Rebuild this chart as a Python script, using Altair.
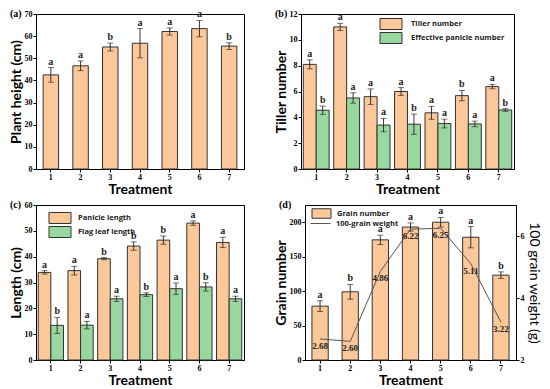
import altair as alt
import pandas as pd

treat = ["1", "2", "3", "4", "5", "6", "7"]

height = [42.5, 46.6, 55.1, 56.8, 62.1, 63.4, 55.5]
height_err = [3.3, 2.2, 1.8, 6.6, 1.6, 3.7, 1.5]
height_sig = ["a", "a", "b", "a", "a", "a", "b"]

tiller = [8.1, 11.0, 5.6, 6.0, 4.35, 5.68, 6.38]
tiller_err = [0.35, 0.28, 0.6, 0.3, 0.5, 0.4, 0.17]
tiller_sig = ["a", "a", "a", "a", "a", "b", "a"]
eff_panicle = [4.55, 5.5, 3.4, 3.47, 3.52, 3.49, 4.57]
eff_panicle_err = [0.32, 0.4, 0.52, 0.78, 0.34, 0.22, 0.1]
eff_panicle_sig = ["b", "a", "a", "b", "a", "a", "b"]

panicle_len = [33.9, 34.6, 39.2, 44.1, 46.4, 53.0, 45.5]
panicle_len_err = [0.65, 1.7, 0.4, 1.6, 1.6, 0.85, 2.0]
panicle_len_sig = ["a", "a", "b", "b", "b", "a", "a"]
flag_len = [13.4, 13.5, 23.7, 25.3, 27.6, 28.3, 23.7]
flag_len_err = [3.1, 1.45, 1.0, 0.7, 2.2, 1.6, 1.0]
flag_len_sig = ["b", "a", "a", "b", "a", "b", "a"]

grain = [78.2, 99.0, 174.4, 193.0, 200.0, 178.2, 123.2]
grain_err = [7.8, 10.7, 6.7, 6.0, 7.0, 15.4, 4.7]
grain_sig = ["a", "b", "a", "a", "a", "a", "b"]
weight = [2.68, 2.60, 4.86, 6.22, 6.25, 5.11, 3.22]
weight_txt = ["2.68", "2.60", "4.86", "6.22", "6.25", "5.11", "3.22"]

panel_names = ["(a)", "(b)", "(c)", "(d)"]

ORANGE = "#FCC899"
GREEN = "#98D8A0"
EDGE = "#333333"
SERIF = "Liberation Serif"
SANS = "Lato"
LEGFONT = "Open Sans"
H = 155
RECT = "M-2,-1H2V1H-2Z"


def frame(series, vals, errs, sigs):
    return pd.DataFrame({
        "treat": treat,
        "series": series,
        "value": vals,
        "lo": [v - e for v, e in zip(vals, errs)],
        "hi": [v + e for v, e in zip(vals, errs)],
        "sig": sigs,
    })


def panel_label(txt):
    return alt.Chart(pd.DataFrame({"lab": [txt]})).mark_text(
        font=SERIF, fontSize=10, fontWeight="bold", align="left", baseline="middle",
        color="black").encode(x=alt.value(-26), y=alt.value(0), text="lab:N")


def bar_layers(df, ytitle, ydom, yvals, names, colors, pad_inner, legend):
    xenc = alt.X("treat:N", title="Treatment",
                 scale=alt.Scale(paddingInner=pad_inner, paddingOuter=pad_inner / 2),
                 axis=alt.Axis(labelAngle=0))
    yscale = alt.Scale(domain=ydom, nice=False, zero=False)
    yaxis = alt.Axis(values=yvals, title=ytitle)

    def Y(f):
        return alt.Y(f"{f}:Q", scale=yscale, axis=yaxis, title=ytitle)

    enc = {"x": xenc}
    if len(names) > 1:
        enc["xOffset"] = alt.XOffset("series:N", scale=alt.Scale(domain=names, paddingInner=0, paddingOuter=0))
    base = alt.Chart(df).encode(**enc)
    color = alt.Color("series:N", scale=alt.Scale(domain=names, range=colors),
                      legend=legend if legend is not None else None)
    bars = base.mark_bar(stroke=EDGE, strokeWidth=1).encode(y=Y("value"), color=color)
    rule = base.mark_rule(color="#222", strokeWidth=0.9).encode(y=Y("lo"), y2="hi:Q")
    cap_hi = base.mark_tick(color="#222", size=6, thickness=0.9).encode(y=Y("hi"))
    cap_lo = base.mark_tick(color="#222", size=6, thickness=0.9).encode(y=Y("lo"))
    letters = base.mark_text(font=SERIF, fontSize=10, fontWeight="bold", baseline="bottom",
                             dy=-1, color="#222").encode(y=Y("hi"), text="sig:N")
    return [bars, rule, cap_hi, cap_lo, letters]


def rect_legend(x, y, size=121, fs=7.5, off=14):
    return alt.Legend(title=None, orient="none", legendX=x, legendY=y, padding=0,
                      symbolType=RECT, symbolSize=size,
                      symbolStrokeColor=EDGE, symbolStrokeWidth=1, symbolOpacity=1,
                      rowPadding=-8, labelFont=LEGFONT, labelFontSize=fs,
                      labelFontWeight="bold", labelColor="#222", labelOffset=off)


# (a)
df_a = frame("Plant height", height, height_err, height_sig)
pa = alt.layer(*bar_layers(df_a, "Plant height (cm)", [0, 70], list(range(0, 71, 10)),
                           ["Plant height"], [ORANGE], 0.48, None),
               panel_label(panel_names[0])
               ).properties(width=208, height=H)

# (b)
df_b = pd.concat([frame("Tiller number", tiller, tiller_err, tiller_sig),
                  frame("Effective panicle number", eff_panicle, eff_panicle_err, eff_panicle_sig)])
pb = alt.layer(*bar_layers(df_b, "Tiller number", [0, 12], list(range(0, 13, 2)),
                           ["Tiller number", "Effective panicle number"], [ORANGE, GREEN], 0.15,
                           rect_legend(84, 4)),
               panel_label(panel_names[1])
               ).properties(width=213, height=H)

# (c)
df_c = pd.concat([frame("Panicle length", panicle_len, panicle_len_err, panicle_len_sig),
                  frame("Flag leaf length", flag_len, flag_len_err, flag_len_sig)])
pc = alt.layer(*bar_layers(df_c, "Length (cm)", [0, 60], list(range(0, 61, 10)),
                           ["Panicle length", "Flag leaf length"], [ORANGE, GREEN], 0.15,
                           rect_legend(18, 7, off=12)),
               panel_label(panel_names[2])
               ).properties(width=208, height=H)

# (d)
df_d = frame("Grain number", grain, grain_err, grain_sig)
left = alt.layer(*bar_layers(df_d, "Grain number", [0, 225], list(range(0, 201, 50)),
                             ["Grain number"], [ORANGE], 0.46,
                             rect_legend(11, 3, size=90, fs=7.5, off=10)),
                 panel_label(panel_names[3]))
df_w = pd.DataFrame({"treat": treat, "weight": weight, "label": weight_txt,
                     "series": "100-grain weight"})
w_scale = alt.Scale(domain=[2, 7], nice=False, zero=False)
w_axis = alt.Axis(orient="right", values=[2, 4, 6], title="100 grain weight (g)",
                  titleFontWeight="normal", titleAngle=90, titlePadding=2)
wbase = alt.Chart(df_w).encode(x=alt.X("treat:N", title="Treatment",
                                         scale=alt.Scale(paddingInner=0.46, paddingOuter=0.23),
                                         axis=alt.Axis(labelAngle=0)))
wline = wbase.mark_line(strokeWidth=1).encode(
    y=alt.Y("weight:Q", scale=w_scale, axis=w_axis, title="100 grain weight (g)"),
    stroke=alt.Stroke("series:N", scale=alt.Scale(domain=["100-grain weight"], range=["#555555"]),
                      legend=alt.Legend(title=None, orient="none", legendX=5, legendY=8, padding=0,
                                        symbolType="stroke", symbolSize=400, symbolStrokeWidth=1,
                                        labelFont=LEGFONT, labelFontSize=7.5, labelFontWeight="bold",
                                        labelColor="#222", labelOffset=5)))
wtext = wbase.mark_text(font=SERIF, fontSize=9, fontWeight="bold", dy=7, baseline="middle",
                        color="#222").encode(
    y=alt.Y("weight:Q", scale=w_scale, axis=w_axis, title="100 grain weight (g)"),
    text="label:N")
right = alt.layer(wline, wtext)
pd_ = alt.layer(left, right).resolve_scale(y="independent").properties(width=211, height=H)

row1 = alt.hconcat(pa, pb, spacing=28).resolve_scale(
    color="independent", xOffset="independent").resolve_legend(color="independent")
row2 = alt.hconcat(pc, pd_, spacing=28).resolve_scale(
    color="independent", stroke="independent", xOffset="independent").resolve_legend(
    color="independent", stroke="independent")
chart = alt.vconcat(row1, row2, spacing=2).resolve_scale(
    color="independent", stroke="independent", xOffset="independent"
).resolve_legend(color="independent", stroke="independent").properties(padding=0).configure_view(
    stroke="black", strokeWidth=1
).configure_axis(
    grid=False, domainColor="black", tickColor="black", tickSize=3,
    labelFont=SERIF, labelFontSize=8, labelFontWeight="bold", labelColor="black", labelPadding=1,
    titleFont=SANS, titleFontSize=14, titleFontWeight="bold", titleColor="black", titlePadding=1
)

chart.save("out.html", embed_options={"renderer": "svg", "actions": False})
